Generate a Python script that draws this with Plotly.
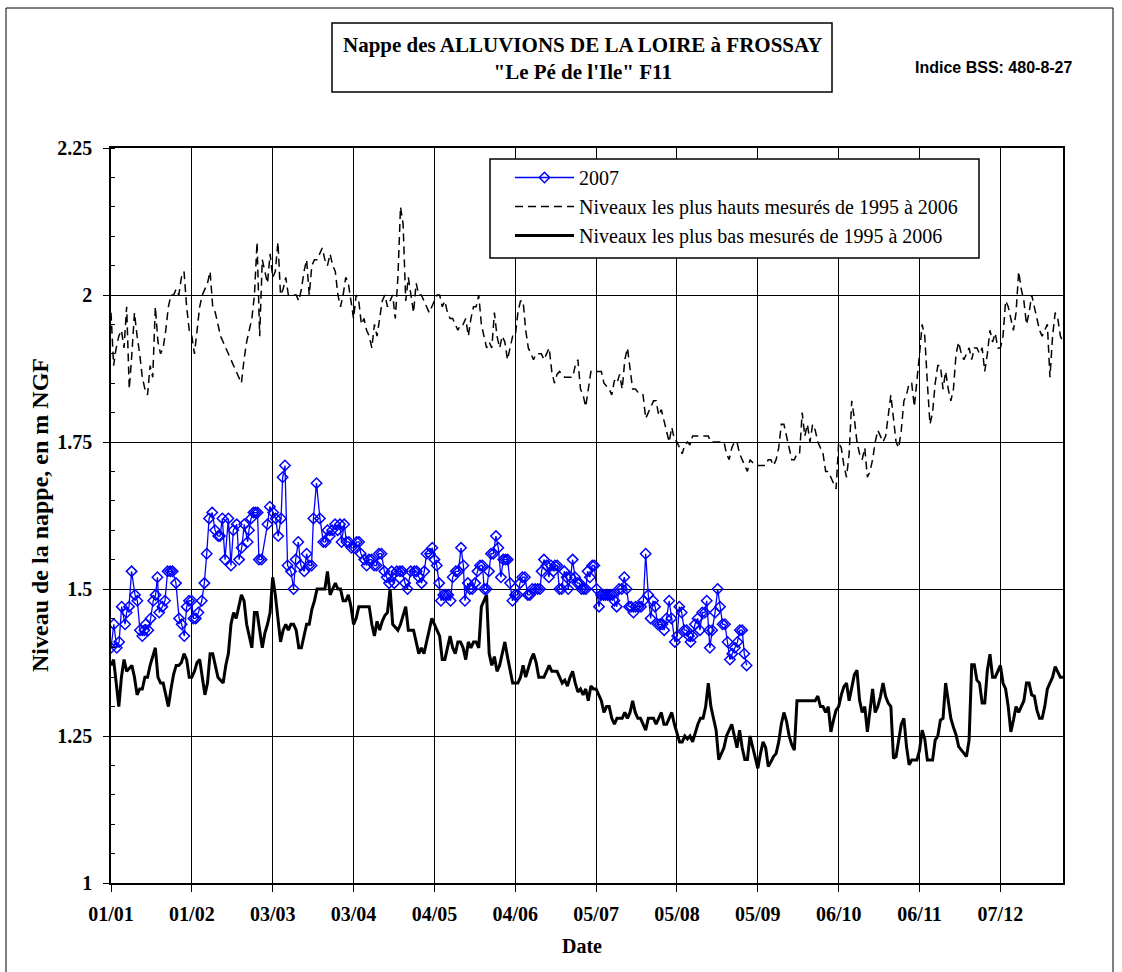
import plotly.graph_objects as go

# ---- x axis: day of year (leap-year calendar), one tick every 31 days ----
DAY_TICKS = [0, 31, 62, 93, 124, 155, 186, 217, 248, 279, 310, 341]
DAY_LABELS = ["01/01", "01/02", "03/03", "03/04", "04/05", "04/06",
              "05/07", "05/08", "05/09", "06/10", "06/11", "07/12"]

# ---- highest levels measured 1995-2006 (m NGF), one value per day 0..365 ----
HIGH_LEVELS = [
    1.97, 1.88, 1.91, 1.93, 1.94, 1.91, 1.98, 1.84, 1.90, 1.97,
    1.93, 1.90, 1.86, 1.84, 1.83, 1.88, 1.86, 1.98, 1.92, 1.90,
    1.91, 1.94, 1.98, 2.00, 2.00, 2.01, 2.00, 2.03, 2.04, 1.98,
    1.94, 1.93, 1.90, 1.94, 1.98, 2.00, 2.01, 2.02, 2.04, 1.98,
    1.97, 1.95, 1.93, 1.92, 1.91, 1.90, 1.89, 1.88, 1.87, 1.86,
    1.85, 1.89, 1.92, 1.94, 1.96, 2.00, 2.09, 1.93, 2.06, 2.04,
    2.02, 2.07, 2.03, 2.04, 2.09, 2.00, 2.01, 2.03, 2.00, 2.00,
    2.00, 2.00, 1.99, 2.01, 2.04, 2.06, 2.00, 2.05, 2.06, 2.06,
    2.07, 2.08, 2.06, 2.05, 2.07, 2.05, 2.04, 2.00, 1.98, 2.00,
    2.03, 2.02, 1.99, 1.96, 2.00, 1.99, 1.95, 1.96, 1.94, 1.93,
    1.91, 1.95, 1.93, 1.96, 1.99, 2.00, 1.98, 1.99, 2.00, 1.96,
    2.03, 2.15, 2.12, 1.99, 2.03, 2.00, 1.97, 2.02, 2.00, 2.00,
    1.99, 1.98, 1.97, 1.98, 1.99, 2.00, 2.00, 1.98, 1.99, 1.97,
    1.96, 1.96, 1.95, 1.94, 1.95, 1.95, 1.96, 1.93, 1.96, 1.98,
    1.98, 2.00, 1.95, 1.93, 1.91, 1.92, 1.91, 1.97, 1.93, 1.91,
    1.93, 1.92, 1.89, 1.91, 1.93, 1.93, 1.97, 1.99, 1.99, 1.94,
    1.91, 1.90, 1.89, 1.90, 1.90, 1.90, 1.89, 1.90, 1.91, 1.87,
    1.85, 1.865, 1.87, 1.865, 1.86, 1.86, 1.86, 1.86, 1.88, 1.89,
    1.84, 1.83, 1.81, 1.845, 1.87, 1.87, 1.87, 1.87, 1.87, 1.85,
    1.845, 1.84, 1.83, 1.855, 1.85, 1.865, 1.84, 1.89, 1.91, 1.87,
    1.84, 1.84, 1.835, 1.835, 1.83, 1.79, 1.80, 1.81, 1.82, 1.82,
    1.795, 1.805, 1.785, 1.77, 1.75, 1.775, 1.755, 1.75, 1.74, 1.73,
    1.745, 1.75, 1.745, 1.76, 1.76, 1.76, 1.76, 1.76, 1.76, 1.76,
    1.75, 1.75, 1.75, 1.75, 1.75, 1.75, 1.73, 1.72, 1.74, 1.75,
    1.75, 1.73, 1.72, 1.71, 1.70, 1.72, 1.715, 1.715, 1.71, 1.71,
    1.71, 1.71, 1.72, 1.72, 1.71, 1.72, 1.74, 1.78, 1.78, 1.76,
    1.74, 1.72, 1.72, 1.73, 1.73, 1.80, 1.76, 1.78, 1.75, 1.78,
    1.77, 1.75, 1.74, 1.73, 1.70, 1.70, 1.69, 1.68, 1.67, 1.75,
    1.74, 1.71, 1.69, 1.73, 1.82, 1.79, 1.75, 1.73, 1.72, 1.74,
    1.69, 1.70, 1.72, 1.75, 1.77, 1.76, 1.75, 1.76, 1.80, 1.83,
    1.79, 1.75, 1.74, 1.77, 1.82, 1.83, 1.85, 1.85, 1.81, 1.85,
    1.90, 1.95, 1.93, 1.85, 1.78, 1.80, 1.85, 1.88, 1.88, 1.84,
    1.87, 1.84, 1.82, 1.84, 1.90, 1.92, 1.90, 1.89, 1.90, 1.91,
    1.89, 1.91, 1.91, 1.90, 1.91, 1.87, 1.90, 1.94, 1.92, 1.935,
    1.91, 1.91, 1.93, 1.99, 1.98, 1.96, 1.94, 1.97, 2.04, 2.01,
    1.99, 1.95, 1.97, 2.00, 1.98, 1.96, 1.94, 1.93, 1.94, 1.95,
    1.86, 1.93, 1.97, 1.96, 1.93, 1.92,
]

# ---- lowest levels measured 1995-2006 (m NGF), one value per day 0..365 ----
LOW_LEVELS = [
    1.37, 1.38, 1.34, 1.30, 1.35, 1.38, 1.36, 1.365, 1.37, 1.35,
    1.32, 1.33, 1.33, 1.35, 1.35, 1.37, 1.385, 1.40, 1.35, 1.34,
    1.34, 1.32, 1.30, 1.33, 1.355, 1.37, 1.37, 1.375, 1.39, 1.38,
    1.35, 1.35, 1.36, 1.375, 1.38, 1.35, 1.32, 1.34, 1.39, 1.39,
    1.37, 1.35, 1.345, 1.34, 1.37, 1.39, 1.44, 1.46, 1.45, 1.47,
    1.49, 1.48, 1.44, 1.42, 1.40, 1.46, 1.46, 1.43, 1.40, 1.425,
    1.44, 1.46, 1.52, 1.49, 1.45, 1.41, 1.43, 1.44, 1.43, 1.44,
    1.44, 1.43, 1.40, 1.40, 1.42, 1.44, 1.44, 1.465, 1.48, 1.50,
    1.50, 1.50, 1.50, 1.53, 1.49, 1.50, 1.51, 1.50, 1.50, 1.48,
    1.48, 1.49, 1.47, 1.44, 1.45, 1.47, 1.47, 1.47, 1.47, 1.47,
    1.44, 1.42, 1.445, 1.43, 1.445, 1.455, 1.46, 1.50, 1.44, 1.435,
    1.43, 1.44, 1.455, 1.47, 1.43, 1.43, 1.43, 1.41, 1.39, 1.40,
    1.39, 1.41, 1.43, 1.45, 1.44, 1.43, 1.42, 1.38, 1.38, 1.40,
    1.42, 1.40, 1.39, 1.41, 1.41, 1.40, 1.38, 1.41, 1.40, 1.41,
    1.41, 1.40, 1.47, 1.48, 1.49, 1.39, 1.37, 1.385, 1.36, 1.37,
    1.39, 1.41, 1.385, 1.365, 1.34, 1.34, 1.34, 1.35, 1.37, 1.35,
    1.365, 1.38, 1.39, 1.375, 1.35, 1.35, 1.35, 1.36, 1.37, 1.36,
    1.36, 1.36, 1.35, 1.34, 1.345, 1.335, 1.35, 1.36, 1.34, 1.325,
    1.33, 1.32, 1.33, 1.31, 1.335, 1.33, 1.33, 1.32, 1.31, 1.29,
    1.30, 1.30, 1.28, 1.27, 1.28, 1.28, 1.28, 1.29, 1.28, 1.29,
    1.31, 1.29, 1.28, 1.28, 1.27, 1.26, 1.28, 1.28, 1.28, 1.27,
    1.28, 1.29, 1.27, 1.27, 1.28, 1.29, 1.27, 1.255, 1.24, 1.24,
    1.25, 1.245, 1.25, 1.24, 1.255, 1.27, 1.28, 1.28, 1.30, 1.34,
    1.30, 1.28, 1.26, 1.21, 1.22, 1.23, 1.25, 1.26, 1.27, 1.25,
    1.23, 1.26, 1.23, 1.21, 1.21, 1.25, 1.23, 1.21, 1.195, 1.22,
    1.24, 1.23, 1.198, 1.206, 1.215, 1.22, 1.24, 1.27, 1.29, 1.275,
    1.25, 1.235, 1.226, 1.31, 1.31, 1.31, 1.31, 1.31, 1.31, 1.31,
    1.31, 1.318, 1.30, 1.30, 1.29, 1.30, 1.257, 1.277, 1.294, 1.30,
    1.32, 1.334, 1.34, 1.31, 1.334, 1.354, 1.362, 1.311, 1.29, 1.30,
    1.257, 1.29, 1.33, 1.29, 1.30, 1.317, 1.34, 1.317, 1.306, 1.30,
    1.212, 1.215, 1.243, 1.27, 1.28, 1.232, 1.201, 1.209, 1.209, 1.209,
    1.226, 1.26, 1.245, 1.209, 1.209, 1.209, 1.243, 1.25, 1.277, 1.28,
    1.34, 1.31, 1.28, 1.265, 1.252, 1.232, 1.226, 1.22, 1.215, 1.243,
    1.371, 1.371, 1.345, 1.34, 1.306, 1.306, 1.362, 1.389, 1.35, 1.35,
    1.36, 1.37, 1.34, 1.33, 1.30, 1.257, 1.277, 1.30, 1.29, 1.30,
    1.31, 1.34, 1.34, 1.32, 1.318, 1.294, 1.28, 1.28, 1.30, 1.33,
    1.34, 1.35, 1.368, 1.36, 1.35, 1.35,
]
HIGH_DAYS = list(range(len(HIGH_LEVELS)))
LOW_DAYS = list(range(len(LOW_LEVELS)))

# ---- 2007 readings: day of year and level (m NGF) ----
Y2007_DAYS = [
    0, 1.1, 2.2, 3.1, 4.1, 5.4, 6, 6.9, 7.9, 9.2, 10.1, 11.1, 12, 12.8, 13.3,
    14.3, 15.2, 16.2, 17.1, 17.8, 18.5, 19.7, 20.7, 21.7, 22.7, 23.6, 24.9,
    26.1, 27.1, 28.1, 29, 29.9, 30.9, 31.6, 32.5, 33.5, 34.8, 35.8, 36.7,
    37.6, 38.8, 39.9, 41.1, 41.8, 42.7, 43.7, 45, 46, 46.9, 48.2, 49.1, 50.1,
    51.1, 52.4, 52.9, 53.7, 54.6, 55.4, 56.2, 56.7, 57.7, 60, 60.9, 62.2,
    63.1, 64.1, 65.2, 65.8, 66.7, 67.7, 69, 70, 70.8, 71.8, 72.8, 74.1, 75,
    75.9, 76.9, 77.6, 78.8, 80.1, 81.4, 82.3, 83, 83.9, 84.8, 85.9, 86.9,
    87.8, 88.4, 89.4, 90.3, 91.2, 92.2, 93.3, 94.2, 95.1, 95.8, 97.1, 98,
    98.9, 99.9, 100.9, 101.8, 102.7, 103.7, 104.8, 105.7, 106.6, 107.6,
    108.6, 109.6, 110.8, 111.7, 112.7, 113.7, 114.9, 116.3, 117.2, 118.1,
    119.1, 120.1, 121, 122.3, 123.2,
    124, 124.9, 125.8, 126.5, 127.4, 128.3, 129.3, 130.2, 131, 132.2, 133.2,
    134.2, 135.1, 135.7, 136.8, 137.6, 138.5, 139.6, 140.5, 141.5, 142.4,
    143.1, 144, 144.9, 145.7, 146.6, 147.6, 148.5, 149.5, 150.4, 151.3,
    152.1, 153, 153.9, 154.9, 155.9, 156.8, 157.7, 158.7, 159.8, 160.6,
    161.5, 162.6, 163.6, 164.5, 165.1, 166, 167, 167.9, 168.7, 169.6, 170.2,
    171.1, 171.9, 172.8, 173.8, 174.7, 175.3, 176.2, 177, 177.9, 178.8,
    179.6, 180.4, 181.3, 182.1, 182.7, 183.6, 184.5, 185.3, 186.2, 187.1,
    187.9, 188.8, 189.6, 190.4, 191.3, 192.2, 193, 193.9, 194.8, 195.8,
    196.8, 197.7, 198.6, 199.4, 200.3, 201.1, 202.2, 203.2, 204.1, 205, 206,
    206.9, 207.8, 208.6, 209.6, 210.5, 211.4, 212.1, 213, 214, 214.9, 216.2,
    217.1, 217.9, 218.8, 219.8, 220.7, 221.6, 222.2, 223, 223.9, 224.9,
    225.8, 226.7, 227.7, 228.4, 229.3, 229.6, 230.5, 231.6, 232.6, 233.5,
    234.5, 235.4, 236.4, 237.3, 238.2, 239.2, 240.2, 241.1, 242, 242.8, 243.7,
]
Y2007_LEVELS = [
    1.40, 1.44, 1.40, 1.41, 1.47, 1.44, 1.46, 1.47, 1.53, 1.49, 1.48, 1.43,
    1.42, 1.43, 1.44, 1.43, 1.45, 1.48, 1.49, 1.52, 1.46, 1.47, 1.48, 1.53,
    1.53, 1.53, 1.51, 1.45, 1.44, 1.42, 1.47, 1.48, 1.48, 1.45, 1.45, 1.46,
    1.48, 1.51, 1.56, 1.62, 1.63, 1.60, 1.59, 1.59, 1.62, 1.55, 1.62, 1.54,
    1.60, 1.61, 1.55, 1.57, 1.61, 1.58, 1.60, 1.62, 1.63, 1.63, 1.63, 1.55,
    1.55, 1.61, 1.64, 1.63, 1.62, 1.59, 1.62, 1.69, 1.71, 1.54, 1.53, 1.50,
    1.55, 1.58, 1.54, 1.53, 1.56, 1.54, 1.54, 1.62, 1.68, 1.62, 1.58, 1.58,
    1.60, 1.59, 1.60, 1.61, 1.60, 1.61, 1.58, 1.61, 1.58, 1.58, 1.57, 1.57,
    1.58, 1.58, 1.56, 1.55, 1.54, 1.55, 1.55, 1.54, 1.54, 1.56, 1.56, 1.53,
    1.52, 1.51, 1.53, 1.51, 1.53, 1.53, 1.53, 1.51, 1.50, 1.53, 1.53, 1.53,
    1.52, 1.51, 1.53, 1.56, 1.56, 1.57,
    1.55, 1.54, 1.51, 1.48, 1.49, 1.49, 1.49, 1.48, 1.52, 1.53, 1.53, 1.57,
    1.54, 1.48, 1.51, 1.50, 1.50, 1.51, 1.53, 1.54, 1.54, 1.50, 1.50, 1.53,
    1.56, 1.56, 1.59, 1.57, 1.52, 1.55, 1.55, 1.55, 1.51, 1.48, 1.49, 1.49,
    1.51, 1.52, 1.52, 1.49, 1.49, 1.50, 1.50, 1.50, 1.50, 1.53, 1.55, 1.54,
    1.52, 1.54, 1.53, 1.54, 1.54, 1.50, 1.50, 1.53, 1.52, 1.50, 1.52, 1.55,
    1.52, 1.51, 1.51, 1.50, 1.50, 1.50, 1.53, 1.52, 1.54, 1.54, 1.50, 1.47,
    1.49, 1.49, 1.49, 1.49, 1.49, 1.49, 1.48, 1.47, 1.50, 1.50, 1.52, 1.50,
    1.47, 1.47, 1.46, 1.47, 1.47, 1.47, 1.48, 1.56, 1.49, 1.45, 1.48, 1.47,
    1.44, 1.44, 1.44, 1.43, 1.45, 1.48, 1.45, 1.41, 1.42, 1.47, 1.46, 1.43,
    1.43, 1.42, 1.41, 1.42, 1.44, 1.45, 1.43, 1.46, 1.46, 1.48, 1.43, 1.40,
    1.43, 1.46, 1.50, 1.47, 1.44, 1.44, 1.41, 1.38, 1.39, 1.40, 1.41, 1.43,
    1.43, 1.39, 1.37,
]

# ---- page geometry (pixels) ----
W, H = 1122, 972
PL, PR, PT, PB = 111, 1063, 148, 883   # plot area edges


def fx(px):
    """Horizontal pixel -> paper fraction."""
    return (px - PL) / (PR - PL)


def fy(py):
    """Vertical pixel -> paper fraction."""
    return (PB - py) / (PB - PT)


SERIF = "Liberation Serif"
SANS = "Liberation Sans"

fig = go.Figure()

fig.add_trace(go.Scatter(
    x=HIGH_DAYS, y=HIGH_LEVELS, mode="lines",
    name="Niveaux les plus hauts mesurés de 1995 à 2006",
    line=dict(color="black", width=1.5, dash="8px,5px"),
    legendrank=2,
))
fig.add_trace(go.Scatter(
    x=LOW_DAYS, y=LOW_LEVELS, mode="lines",
    name="Niveaux les plus bas mesurés de 1995 à 2006",
    line=dict(color="black", width=3),
    legendrank=3,
))
fig.add_trace(go.Scatter(
    x=Y2007_DAYS, y=Y2007_LEVELS, mode="lines+markers",
    name="2007",
    line=dict(color="#0000ff", width=1.3),
    marker=dict(symbol="diamond-open", size=8, color="#0000ff",
                line=dict(color="#0000ff", width=1.5)),
    legendrank=1,
))

axis_font = dict(family=SERIF, size=20, color="black", weight="bold")

fig.update_xaxes(
    range=[0, 365], tickmode="array", tickvals=DAY_TICKS, ticktext=DAY_LABELS,
    ticks="outside", ticklen=7, tickcolor="black", tickwidth=1,
    showgrid=True, gridcolor="black", gridwidth=1,
    showline=True, linecolor="black", linewidth=1.5, mirror=True,
    zeroline=False, tickfont=axis_font, ticklabelstandoff=5,
)
fig.update_yaxes(
    range=[1, 2.25], tick0=1, dtick=0.25,
    ticks="outside", ticklen=6, tickcolor="black", tickwidth=1,
    minor=dict(dtick=0.05, ticks="inside", ticklen=4, tickcolor="black",
               showgrid=False),
    showgrid=True, gridcolor="black", gridwidth=1,
    showline=True, linecolor="black", linewidth=1.5, mirror=True,
    zeroline=False, tickfont=axis_font, ticklabelstandoff=7,
)


def label(text, px, py, size, family=SERIF, bold=True, angle=0):
    return dict(text=text, x=fx(px), y=fy(py), xref="paper", yref="paper",
                xanchor="center", yanchor="middle", showarrow=False,
                textangle=angle, align="center",
                font=dict(family=family, size=size, color="black",
                          weight="bold" if bold else "normal"))


annotations = [
    label("Nappe des ALLUVIONS DE LA LOIRE à FROSSAY<br>\"Le Pé de l'Ile\" F11",
          582, 58, 21),
    label("Indice BSS: 480-8-27", 994, 67, 16, family=SANS),
    label("Niveau de la nappe, en m NGF", 40, 515, 24, angle=-90),
    label("Date", 582, 946, 20),
]

shapes = [
    # title frame
    dict(type="rect", xref="paper", yref="paper",
         x0=fx(332), x1=fx(832), y0=fy(92), y1=fy(23),
         line=dict(color="black", width=1.5)),
    # outer frame of the chart sheet
    dict(type="rect", xref="paper", yref="paper",
         x0=fx(6), x1=fx(1113), y0=fy(990), y1=fy(8),
         line=dict(color="black", width=1)),
    # white panel with border behind the legend entries
    dict(type="rect", xref="paper", yref="paper", layer="above",
         x0=fx(490), x1=fx(979), y0=fy(258), y1=fy(159),
         fillcolor="white", line=dict(color="black", width=1.5)),
]

fig.update_layout(
    width=W, height=H, autosize=False,
    margin=dict(l=PL, r=W - PR, t=PT, b=H - PB, pad=0),
    paper_bgcolor="white", plot_bgcolor="white",
    showlegend=True,
    legend=dict(x=fx(510), y=fy(158), xanchor="left", yanchor="top",
                bgcolor="rgba(0,0,0,0)", borderwidth=0,
                font=dict(family=SERIF, size=20, color="black"),
                traceorder="normal", itemwidth=59, tracegroupgap=0),
    annotations=annotations,
    shapes=shapes,
)

fig.write_html("out.html")
